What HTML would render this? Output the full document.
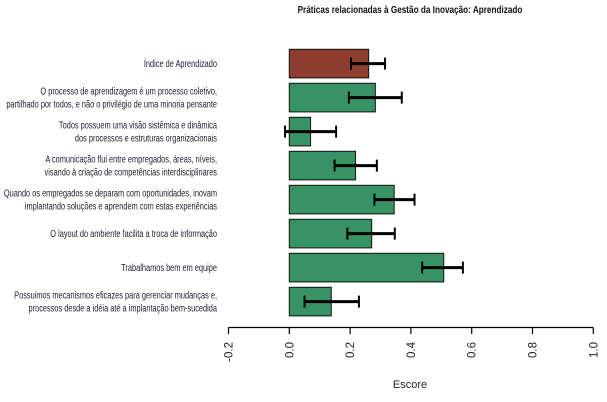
<!DOCTYPE html>
<html><head><meta charset="utf-8"><style>
html,body{margin:0;padding:0;background:#fff;width:607px;height:402px;overflow:hidden}
svg text{font-family:"Liberation Sans Narrow","Liberation Sans",sans-serif}
</style></head><body>
<svg id="chart" width="607" height="402" viewBox="0 0 607 402" xmlns="http://www.w3.org/2000/svg">
<text x="410" y="13" text-anchor="middle" font-size="10" font-weight="bold" fill="#111" transform="translate(410,0) scale(0.82,1) translate(-410,0)">Práticas relacionadas à Gestão da Inovação: Aprendizado</text>
<g id="bars"></g>
<g id="labels" transform="translate(217,0) scale(0.74,1) translate(-217,0)"></g>
<g id="axis"></g>
<text x="410" y="388" text-anchor="middle" font-size="11" fill="#222">Escore</text>
</svg>
<script>
const categories = [
 ["Índice de Aprendizado"],
 ["O processo de aprendizagem é um processo coletivo,","partilhado por todos, e não o privilégio de uma minoria pensante"],
 ["Todos possuem uma visão sistêmica e dinâmica","dos processos e estruturas organizacionais"],
 ["A comunicação flui entre empregados, áreas, níveis,","visando à criação de competências interdisciplinares"],
 ["Quando os empregados se deparam com oportunidades, inovam","implantando soluções e aprendem com estas experiências"],
 ["O layout do ambiente facilita a troca de informação"],
 ["Trabalhamos bem em equipe"],
 ["Possuimos mecanismos eficazes para gerenciar mudanças e,","processos desde a idéia até a implantação bem-sucedida"]
];
const values = [0.261, 0.283, 0.070, 0.218, 0.345, 0.271, 0.508, 0.138];
const errLow = [0.203, 0.196, -0.014, 0.149, 0.280, 0.191, 0.437, 0.050];
const errHigh = [0.315, 0.370, 0.154, 0.288, 0.412, 0.347, 0.571, 0.229];
const ticks = [-0.2, 0.0, 0.2, 0.4, 0.6, 0.8, 1.0];
const tickLabels = ["-0.2","0.0","0.2","0.4","0.6","0.8","1.0"];

const NS="http://www.w3.org/2000/svg";
const x = v => 289.3 + v*304;
const yTop = i => 49.3 + i*34.0;
const barH = 28.6;
function mk(tag, attrs, parent){const e=document.createElementNS(NS,tag);for(const k in attrs)e.setAttribute(k,attrs[k]);parent.appendChild(e);return e;}
const gb=document.getElementById('bars');
const gl=document.getElementById('labels');
values.forEach((v,i)=>{
  const y0=yTop(i);
  const r=mk('rect',{x:Math.min(x(0),x(v)),y:y0,width:Math.abs(x(v)-x(0)),height:barH,fill:i===0?'#8e3d2f':'#379264',stroke:'#111','stroke-width':1},gb);
  
  
  const cy=y0+barH/2;
  const g=mk('g',{stroke:'#000','stroke-width':3},gb);
  
  
  mk('line',{x1:x(errLow[i]),x2:x(errHigh[i]),y1:cy,y2:cy},g);
  mk('line',{x1:x(errLow[i]),x2:x(errLow[i]),y1:cy-6,y2:cy+6,'stroke-width':2},g);
  mk('line',{x1:x(errHigh[i]),x2:x(errHigh[i]),y1:cy-6,y2:cy+6,'stroke-width':2},g);
  const lines=categories[i];
  const t=mk('text',{x:217,'text-anchor':'end','font-size':10,fill:'#1a1a2e'},gl);
  
  
  lines.forEach((s,j)=>{
    const ts=mk('tspan',{x:217,y:cy+3.5+(j-(lines.length-1)/2)*13},t);
    ts.textContent=s;
  });
});
const ga=document.getElementById('axis');


mk('line',{x1:x(ticks[0]),x2:x(ticks[ticks.length-1]),y1:327.5,y2:327.5,stroke:'#000','stroke-width':1.2},ga);
ticks.forEach((t,i)=>{
  mk('line',{x1:x(t),x2:x(t),y1:327.5,y2:334,stroke:'#000','stroke-width':1.2},ga);
  const tx=mk('text',{transform:`translate(${x(t)+4},342) rotate(-90)`,'font-size':11.5,fill:'#222','text-anchor':'end'},ga);
  
  
  tx.textContent=tickLabels[i];
});
</script>
</body></html>
